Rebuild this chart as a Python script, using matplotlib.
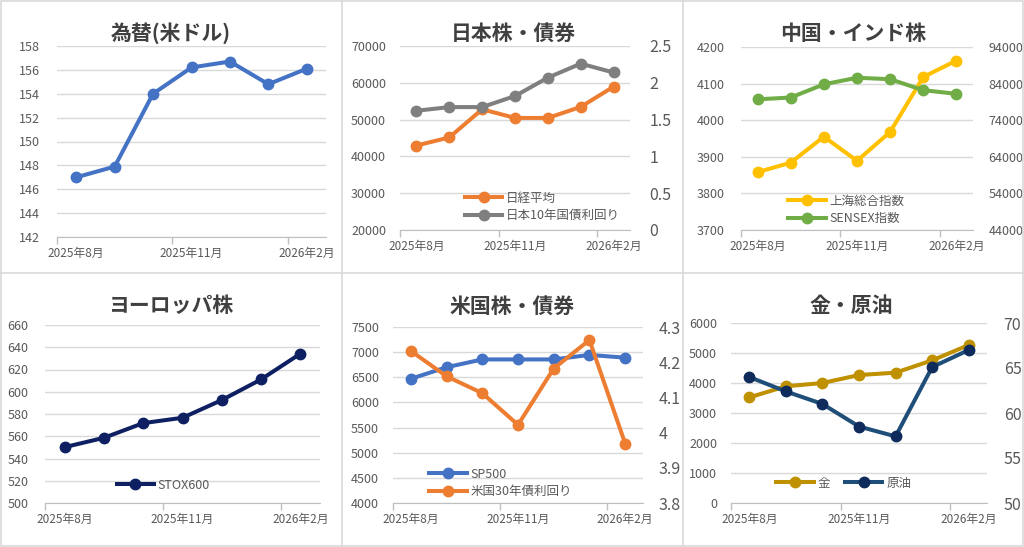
import numpy as np
import matplotlib
matplotlib.use('Agg')
import matplotlib.pyplot as plt
from matplotlib.lines import Line2D
from matplotlib.ticker import FuncFormatter

plt.rcParams['font.family'] = ['Noto Sans CJK JP', 'DejaVu Sans']

# dados mensais (ago/2025 - fev/2026)
meses = ['2025年8月', '2025年9月', '2025年10月', '2025年11月',
         '2025年12月', '2026年1月', '2026年2月']

usdjpy   = [147.0, 147.9, 154.0, 156.2, 156.7, 154.8, 156.1]
nikkei   = [42950, 45150, 52800, 50450, 50450, 53450, 58950]
jgb10    = [1.62, 1.67, 1.67, 1.82, 2.07, 2.26, 2.14]
shanghai = [3858, 3884, 3955, 3889, 3968, 4118, 4163]
sensex   = [79700, 80200, 83800, 85600, 85200, 82200, 81200]
stox600  = [550.2, 558.6, 571.8, 576.6, 592.5, 611.1, 634.2]
sp500    = [6470, 6700, 6855, 6855, 6855, 6945, 6890]
ust30    = [4.232, 4.160, 4.112, 4.022, 4.182, 4.263, 3.969]
gold     = [3520, 3890, 4000, 4265, 4345, 4755, 5265]
oil      = [64.0, 62.4, 61.0, 58.5, 57.4, 65.1, 67.0]

cinza = '#595959'
W, H = 1024, 547
fig = plt.figure(figsize=(W/100, H/100), dpi=100)
x = np.arange(len(meses))
fmt = FuncFormatter(lambda v, p: f'{v:g}')


def eixo(l, t, r, b):
    return fig.add_axes([l/W, 1 - b/H, (r - l)/W, (b - t)/H])


def base(ax, ylim, step, pad=10):
    ax.set_xlim(-0.5, 6.5)
    ax.set_ylim(*ylim)
    ax.set_yticks(np.arange(ylim[0], ylim[1] + step/2, step))
    ax.yaxis.set_major_formatter(fmt)
    ax.set_xticks(x[::3])
    ax.set_xticklabels(meses[::3])
    ax.set_xticks([-0.5, 2.5, 5.5], minor=True)
    ax.tick_params(axis='x', which='major', length=0, pad=7, labelsize=8.5, labelcolor=cinza)
    ax.tick_params(axis='x', which='minor', length=5, color='#BFBFBF', width=1)
    ax.tick_params(axis='y', length=0, pad=pad, labelsize=9, labelcolor=cinza)
    for s in ['top', 'right', 'left']:
        ax.spines[s].set_visible(False)
    ax.spines['bottom'].set_color('#BFBFBF')
    ax.grid(axis='y', color='#D9D9D9', lw=1)
    ax.set_axisbelow(True)


def direita(ax, ylim, step, size=9, pad=10):
    ax2 = ax.twinx()
    ax2.set_ylim(*ylim)
    ax2.set_yticks(np.arange(ylim[0], ylim[1] + step/2, step))
    ax2.yaxis.set_major_formatter(fmt)
    ax2.tick_params(axis='y', length=0, pad=pad, labelsize=size, labelcolor=cinza)
    for s in ax2.spines.values():
        s.set_visible(False)
    return ax2


def linha(ax, y, cor, nome, mcor=None):
    return ax.plot(x, y, color=cor, lw=2.9, marker='o', ms=7.5,
                   mfc=mcor or cor, mec=mcor or cor, label=nome)[0]


def legenda(ax, hs, cx, cy, ncol=1):
    ax.legend(handles=hs, loc='center', bbox_to_anchor=(cx, cy), ncol=ncol,
              frameon=False, fontsize=9, labelcolor=cinza, handlelength=3.0,
              handletextpad=0.3, labelspacing=0.35, columnspacing=1.2)


def titulo(cx, cy, s):
    fig.text(cx/W, 1 - cy/H, s, ha='center', va='center', fontsize=15,
             fontweight='bold', color='#404040')


# 為替
ax = eixo(57, 46, 326, 237)
base(ax, (142, 158), 2, pad=12)
linha(ax, usdjpy, '#4472C4', '米ドル')
titulo(171, 33, '為替(米ドル)')

# 日本株・債券
ax = eixo(400, 46, 630, 230)
base(ax, (20000, 70000), 10000)
a2 = direita(ax, (0, 2.5), 0.5, size=11.5, pad=14)
h1 = linha(ax, nikkei, '#ED7D31', '日経平均')
h2 = linha(a2, jgb10, '#7F7F7F', '日本10年国債利回り')
legenda(a2, [h1, h2], 0.62, 0.125)
titulo(513, 33, '日本株・債券')

# 中国・インド株
ax = eixo(741, 47, 973, 230)
base(ax, (3700, 4200), 100, pad=12)
a2 = direita(ax, (44000, 94000), 10000, pad=11)
h1 = linha(ax, shanghai, '#FFC000', '上海総合指数')
h2 = linha(a2, sensex, '#70AD47', 'SENSEX指数')
legenda(a2, [h1, h2], 0.455, 0.11)
titulo(853, 33, '中国・インド株')

# ヨーロッパ株
ax = eixo(45, 325, 320, 503)
base(ax, (500, 660), 20, pad=12)
h1 = linha(ax, stox600, '#0E2062', 'STOX600')
legenda(ax, [h1], 0.43, 0.10)
titulo(172, 306, 'ヨーロッパ株')

# 米国株・債券
ax = eixo(393, 327, 643, 503)
base(ax, (4000, 7500), 500)
a2 = direita(ax, (3.8, 4.3), 0.1, size=11.5, pad=11)
h1 = linha(ax, sp500, '#4472C4', 'SP500')
h2 = linha(a2, ust30, '#ED7D31', '米国30年債利回り')
legenda(a2, [h1, h2], 0.43, 0.115)
titulo(512, 306, '米国株・債券')

# 金・原油
ax = eixo(731, 323, 987, 503)
base(ax, (0, 6000), 1000, pad=10)
a2 = direita(ax, (50, 70), 5, size=11.5, pad=12)
h1 = linha(ax, gold, '#BF9000', '金')
h2 = linha(a2, oil, '#1F4E79', '原油', mcor='#0F2B5B')
legenda(a2, [h1, h2], 0.44, 0.11, ncol=2)
titulo(851, 306, '金・原油')

# bordas dos paineis
borda = '#D9D9D9'
for px in [341.5, 682.5]:
    fig.add_artist(Line2D([px/W, px/W], [0, 1], color=borda, lw=1.2))
fig.add_artist(Line2D([0, 1], [1 - 273/H, 1 - 273/H], color=borda, lw=1.2))
fig.add_artist(plt.Rectangle((0.0005, 0.001), 0.999, 0.998, fill=False,
                             ec=borda, lw=1.2, transform=fig.transFigure))

fig.savefig('out.png', dpi=100, facecolor='white')
